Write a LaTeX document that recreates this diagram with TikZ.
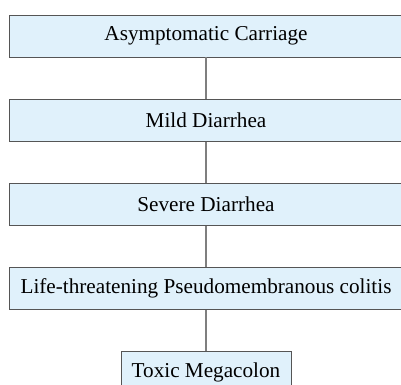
\documentclass[tikz,border=0pt]{standalone}
\usepackage{fontspec}
\setmainfont{Liberation Serif}
\usepackage{xcolor}
\usetikzlibrary{positioning}
\definecolor{boxfill}{HTML}{E0F1FB}
\definecolor{boxline}{HTML}{555555}
\definecolor{linkgray}{HTML}{7F7F7F}

\begin{document}
\begin{tikzpicture}[x=1pt, y=1pt,
  stage/.style={draw=boxline, fill=boxfill, line width=0.9pt, minimum height=42pt,
    inner sep=0pt, font=\fontsize{21.2}{25}\selectfont},
  wide/.style={stage, minimum width=394pt},
  link/.style={draw=linkgray, line width=1.2pt}]
  \useasboundingbox (0,0) rectangle (401,-384);
  \node[wide] (carriage) at (206,-36) {Asymptomatic Carriage};
  \node[wide, below=41.2pt of carriage] (mild) {Mild Diarrhea};
  \node[wide, below=41.2pt of mild] (severe) {Severe Diarrhea};
  \node[wide, below=41.2pt of severe] (colitis) {Life-threatening Pseudomembranous colitis};
  \node[stage, minimum width=170pt, below=41.2pt of colitis] (megacolon) {Toxic Megacolon};
  % links between stages
  \draw[link] (carriage) -- (mild);
  \draw[link] (mild) -- (severe);
  \draw[link] (severe) -- (colitis);
  \draw[link] (colitis) -- (megacolon);
\end{tikzpicture}
\end{document}
